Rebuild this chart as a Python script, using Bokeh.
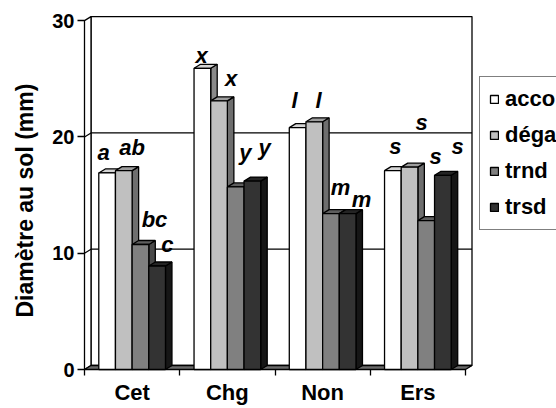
from bokeh.plotting import figure
from bokeh.models import Range1d, FixedTicker, Legend, LegendItem, ColumnDataSource
from bokeh.core.properties import value
from bokeh.embed import file_html
from bokeh.resources import INLINE

# ---------------- data ----------------
categories = ["Cet", "Chg", "Non", "Ers"]
series_names = ["accompagnement", "dégagement", "trnd", "trsd"]
accord = [16.9, 25.9, 20.8, 17.1]
degagement = [17.1, 23.1, 21.3, 17.4]
trnd = [10.75, 15.7, 13.4, 12.8]
trsd = [8.9, 16.2, 13.4, 16.7]
y_ticks = [0, 10, 20, 30]

# significance letters (per category, per series)
letters = [["a", "ab", "bc", "c"],
           ["x", "x", "y", "y"],
           ["l", "l", "m", "m"],
           ["s", "s", "s", "s"]]
# where each letter sits (x in category units, y in mm)
letter_x = [[0.20, 0.50, 0.735, 0.87],
            [1.23, 1.54, 1.69, 1.89],
            [2.205, 2.457, 2.688, 2.908],
            [3.265, 3.538, 3.685, 3.916]]
letter_y = [[18.7, 19.1, 12.9, 10.75],
            [27.0, 25.0, 18.7, 19.1],
            [23.1, 23.1, 15.65, 14.6],
            [19.2, 21.2, 18.3, 19.2]]

# ---------------- style ----------------
front_colors = ["#FFFFFF", "#C0C0C0", "#808080", "#333333"]
top_colors = ["#D4D4D4", "#9E9E9E", "#5E5E5E", "#242424"]
side_colors = ["#8A8A8A", "#6E6E6E", "#4A4A4A", "#161616"]
FONT = "Liberation Sans"

W, H = 556, 408
PX_X = 95.25   # px per category
PX_Y = 11.63   # px per mm
F_LEFT, F_RIGHT, F_TOP, F_BOTTOM = 81, W, 14, 371
ZERO_X, ZERO_Y = 84, 369

DX = 6.5 / PX_X   # depth offsets
DY = 4.0 / PX_Y
BAR_W = 0.175
offsets = [-0.2625, -0.0875, 0.0875, 0.2625]
ncat = len(categories)
ymax = y_ticks[-1]

p = figure(width=W, height=H, output_backend="svg", toolbar_location=None,
           x_range=Range1d((F_LEFT - ZERO_X) / PX_X, (F_RIGHT - ZERO_X) / PX_X),
           y_range=Range1d(-(F_BOTTOM - ZERO_Y) / PX_Y, (ZERO_Y - F_TOP) / PX_Y),
           min_border_left=F_LEFT, min_border_right=0,
           min_border_top=F_TOP, min_border_bottom=H - F_BOTTOM,
           title="Diamètre au sol (mm)", title_location="left")
p.outline_line_color = None
p.xgrid.visible = False
p.ygrid.visible = False
p.background_fill_color = "white"
p.border_fill_color = "white"

p.title.align = "left"
p.title.offset = 54
p.title.standoff = 20
p.title.vertical_align = "top"
p.title.text_line_height = 1.0
p.title.text_font = FONT
p.title.text_font_size = "23px"
p.title.text_font_style = "bold"
p.title.text_color = "black"

LW = 1.3
# back wall
p.quad(left=DX, right=ncat + DX, bottom=DY, top=ymax + DY,
       fill_color="white", line_color="black", line_width=LW)
# left side wall
p.patch([0, 0, DX, DX], [0, ymax, ymax + DY, DY],
        fill_color="white", line_color="black", line_width=LW)
# floor
p.patch([0, ncat, ncat + DX, DX], [0, 0, DY, DY],
        fill_color="#6A6A6A", line_color="black", line_width=LW)
# gridlines on side wall and back wall
gx, gy = [], []
for t in y_ticks[1:-1]:
    gx.append([0, DX, ncat + DX])
    gy.append([t, t + DY, t + DY])
p.multi_line(gx, gy, line_color="black", line_width=1.2)

series_vals = [accord, degagement, trnd, trsd]

# sides and tops first
for s, vals in enumerate(series_vals):
    xs, ys, xt, yt = [], [], [], []
    for g, v in enumerate(vals):
        l = g + 0.5 + offsets[s] - BAR_W / 2
        r = l + BAR_W
        xs.append([r, r + DX, r + DX, r])
        ys.append([0, DY, v + DY, v])
        xt.append([l, r, r + DX, l + DX])
        yt.append([v, v, v + DY, v + DY])
    p.patches(xs, ys, fill_color=side_colors[s], line_color="black", line_width=LW)
    p.patches(xt, yt, fill_color=top_colors[s], line_color="black", line_width=LW)

# fronts
items = []
for s, vals in enumerate(series_vals):
    lefts = [g + 0.5 + offsets[s] - BAR_W / 2 for g in range(ncat)]
    rights = [l + BAR_W for l in lefts]
    src = ColumnDataSource(dict(left=lefts, right=rights, top=vals, bottom=[0] * ncat))
    r = p.quad(left="left", right="right", top="top", bottom="bottom", source=src,
               fill_color=front_colors[s], line_color="black", line_width=LW)
    items.append(LegendItem(label=series_names[s], renderers=[r]))

# significance letters
lx, ly, lt = [], [], []
for g in range(ncat):
    for s in range(len(series_vals)):
        lx.append(letter_x[g][s])
        ly.append(letter_y[g][s])
        lt.append(letters[g][s])
p.text(x=lx, y=ly, text=lt, text_font=value(FONT), text_font_style="bold italic",
       text_font_size="22px", text_align="center", text_baseline="middle",
       text_color="black")

# axes
yax = p.yaxis[0]
yax.ticker = FixedTicker(ticks=y_ticks, minor_ticks=[])
yax.axis_line_color = None
yax.major_tick_out = 4
yax.major_tick_in = 3
yax.major_tick_line_color = "black"
yax.major_tick_line_width = 1.3
yax.major_label_standoff = 3
yax.major_label_text_font = FONT
yax.major_label_text_font_style = "bold"
yax.major_label_text_font_size = "20px"
yax.major_label_text_color = "black"

xax = p.xaxis[0]
xax.ticker = FixedTicker(ticks=[i + 0.5 for i in range(ncat)],
                         minor_ticks=list(range(ncat + 1)))
xax.major_label_overrides = {i + 0.5: c for i, c in enumerate(categories)}
xax.axis_line_color = None
xax.major_tick_line_color = None
xax.major_tick_out = 0
xax.major_tick_in = 0
xax.minor_tick_in = 2
xax.minor_tick_out = 4
xax.minor_tick_line_color = "black"
xax.minor_tick_line_width = 1.3
xax.major_label_standoff = 4
xax.major_label_text_font = FONT
xax.major_label_text_font_style = "bold"
xax.major_label_text_font_size = "22px"
xax.major_label_text_color = "black"

legend = Legend(items=items, location=(479 - F_LEFT, F_BOTTOM - 230),
                orientation="vertical",
                label_text_font=FONT, label_text_font_style="bold",
                label_text_font_size="22px", label_text_color="black",
                glyph_width=10, glyph_height=10, label_height=24,
                label_standoff=6, spacing=10, padding=9, margin=0,
                border_line_color="black", border_line_width=1.5,
                background_fill_color="white", background_fill_alpha=1.0)
p.add_layout(legend, "center")

open("out.html", "w").write(file_html(p, INLINE))
